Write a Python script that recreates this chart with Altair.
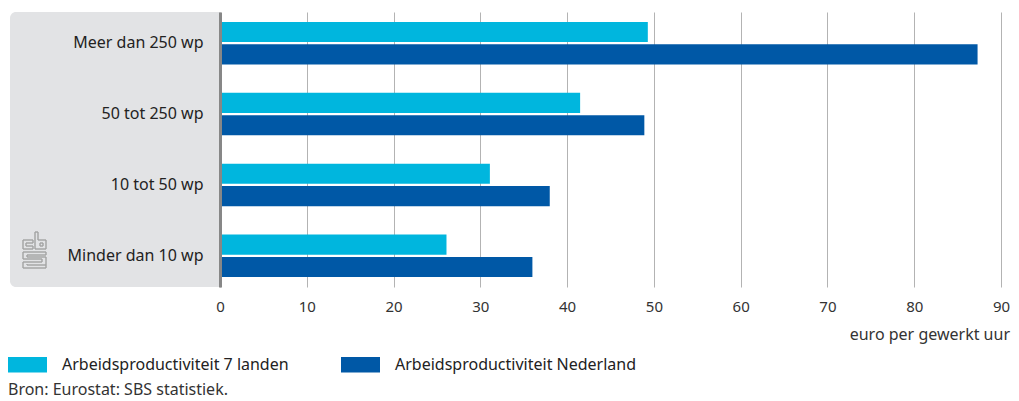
import altair as alt
import pandas as pd

categories = ["Meer dan 250 wp", "50 tot 250 wp", "10 tot 50 wp", "Minder dan 10 wp"]
series = ["Arbeidsproductiviteit 7 landen", "Arbeidsproductiviteit Nederland"]
landen7 = [49.3, 41.5, 31.1, 26.1]
nederland = [87.3, 48.9, 38.0, 36.0]
colors = ["#00b6de", "#0058a6"]
x_ticks = [0, 10, 20, 30, 40, 50, 60, 70, 80, 90]
x_title = "euro per gewerkt uur"
source = "Bron: Eurostat: SBS statistiek."

rows = []
for c, a, b in zip(categories, landen7, nederland):
    rows.append({"cat": c, "serie": series[0], "val": a})
    rows.append({"cat": c, "serie": series[1], "val": b})
df = pd.DataFrame(rows)

FONT = "Noto Sans"
W, H = 781, 275
OX, OY = 220, 12
one = pd.DataFrame({"a": [0]})

panel = alt.Chart(one).mark_rect(
    color="#e2e3e5", cornerRadiusTopLeft=6, cornerRadiusBottomLeft=6, clip=False
).encode(x=alt.value(-210), x2=alt.value(0), y=alt.value(0), y2=alt.value(H))


# decorative logo (small grey line icon in the label panel)
def seg(x1, y1, x2, y2):
    return alt.Chart(one).mark_rule(color="#a3a3a3", strokeWidth=1.4).encode(
        x=alt.value(x1 - OX), y=alt.value(y1 - OY),
        x2=alt.value(x2 - OX), y2=alt.value(y2 - OY))


logo_segments = [
    # c
    (23, 240, 33, 240), (23, 240, 23, 249), (23, 249, 33, 249),
    (26, 243, 33, 243), (26, 243, 26, 246), (26, 246, 33, 246),
    (33, 240, 33, 243), (33, 246, 33, 249),
    # b
    (35, 232, 35, 249), (35, 232, 38, 232), (38, 232, 38, 240),
    (38, 240, 46, 240), (46, 240, 46, 249), (35, 249, 46, 249),
    (40, 243, 43, 243), (40, 246, 43, 246), (40, 243, 40, 246), (43, 243, 43, 246),
    # s
    (23, 252, 46, 252), (46, 252, 46, 255), (27, 255, 46, 255),
    (23, 252, 23, 259), (27, 255, 27, 257), (27, 257, 46, 257),
    (23, 259, 42, 259), (46, 257, 46, 268), (42, 259, 42, 262),
    (23, 262, 42, 262), (23, 262, 23, 268), (23, 268, 46, 268),
    (27, 265, 46, 265), (27, 264, 27, 265),
]
logo = [seg(*s) for s in logo_segments]

bars = alt.Chart(df).mark_bar().encode(
    x=alt.X("val:Q", scale=alt.Scale(domain=[0, 90], nice=False, zero=True),
            axis=alt.Axis(values=x_ticks, grid=True, gridColor="#b3b3b3", gridWidth=1,
                          domain=False, ticks=False, labelFont=FONT, labelFontSize=15,
                          labelColor="#333333", labelPadding=12, labelFlush=False,
                          title=None)),
    y=alt.Y("cat:N", sort=categories,
            scale=alt.Scale(paddingInner=0.4, paddingOuter=0.14),
            axis=alt.Axis(title=None, domainColor="#878787", domainWidth=3, ticks=False,
                          labelFont=FONT, labelFontSize=16, labelColor="#222222",
                          labelPadding=17, zindex=1, grid=False)),
    yOffset=alt.YOffset("serie:N", sort=series, scale=alt.Scale(paddingInner=0.1)),
    color=alt.Color("serie:N", sort=series,
                    scale=alt.Scale(domain=series, range=colors),
                    legend=alt.Legend(title=None, orient="none", legendX=-212, legendY=333,
                                      direction="horizontal", symbolType="M-1,-0.4H1V0.4H-1Z",
                                      symbolSize=1521, symbolStrokeWidth=0, symbolOpacity=1,
                                      labelFont=FONT, labelFontSize=16, labelColor="#222222",
                                      labelOffset=15, labelLimit=0, columnPadding=52,
                                      padding=0)),
)

xtitle = alt.Chart(one).mark_text(
    text=x_title, font=FONT, fontSize=16, color="#333333", align="right", baseline="middle"
).encode(x=alt.value(W + 9), y=alt.value(H + 48))

src = alt.Chart(one).mark_text(
    text=source, font=FONT, fontSize=16, color="#333333", align="left", baseline="middle"
).encode(x=alt.value(-212), y=alt.value(H + 103))

chart = alt.layer(panel, *logo, bars, xtitle, src).properties(
    width=W, height=H,
    autosize=alt.AutoSizeParams(type="none"),
    padding={"left": OX, "top": OY, "right": 18, "bottom": 114},
    background="white",
).configure_view(stroke=None)

chart.save("out.html", embed_options={"renderer": "svg", "actions": False})
